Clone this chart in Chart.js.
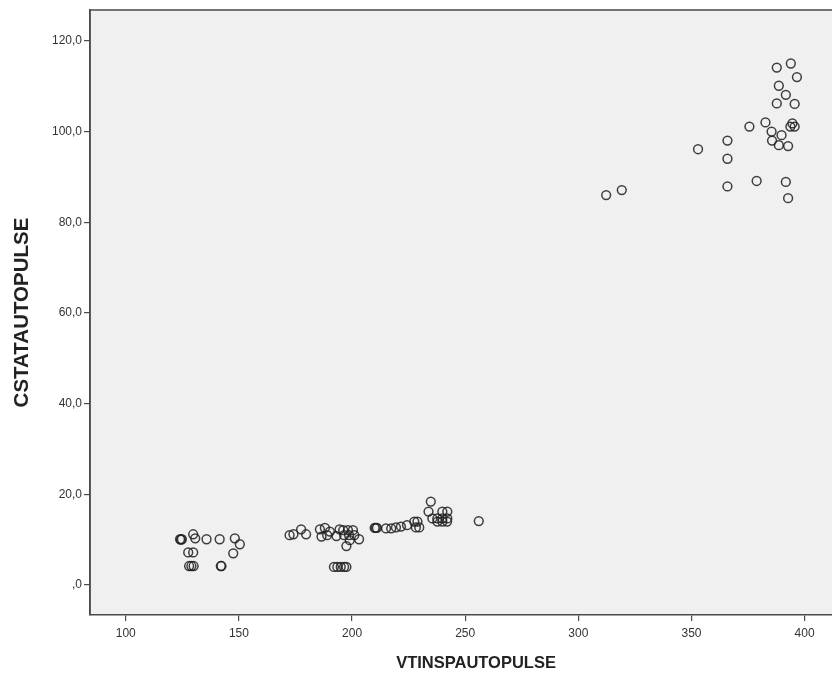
<!DOCTYPE html>
<html>
<head>
<meta charset="utf-8">
<script src="https://cdn.jsdelivr.net/npm/chart.js@4"></script>
<style>
  html, body { margin: 0; background: #fff; overflow: hidden; }
  #wrap { width: 832px; height: 679px; overflow: hidden; }
</style>
</head>
<body>
<div id="wrap"><canvas id="scatterChart" width="868" height="679"></canvas></div>
<script>
// Данные точек
const vtInsp = [
    124.0, 124.4, 124.8, 129.8, 130.7, 135.7, 141.5, 148.2, 150.4, 147.5, 127.6, 129.8, 128.0, 129.0, 130.0, 142.0, 142.3,
    172.4, 174.1, 177.5, 179.7, 185.8, 186.5, 188.0, 190.2, 193.1, 196.1, 198.2, 200.4, 196.5, 198.7, 201.0, 199.0, 203.1, 197.5,
    192.0, 193.5, 195.0, 196.5, 197.5, 189.0, 194.5,
    210.0, 210.5, 211.0, 215.0, 217.3, 219.4, 221.6, 224.3, 227.5, 228.9, 229.7, 228.2, 234.8, 233.8, 235.5, 237.7, 239.9, 242.1,
    237.7, 239.9, 242.0, 239.9, 242.1, 256.0,
    312.3, 319.2, 352.9, 365.9, 365.9, 365.9, 378.8, 375.6, 382.7, 385.4, 385.6, 389.8, 388.6, 392.7, 387.7, 393.9, 396.6,
    388.6, 391.7, 387.7, 395.6, 394.6, 393.7, 395.6, 391.7, 392.7
];
const cStat = [
    10.1, 10.0, 10.1, 11.2, 10.3, 10.1, 10.1, 10.3, 9.0, 7.0, 7.2, 7.2, 4.2, 4.2, 4.2, 4.2, 4.2,
    11.0, 11.2, 12.3, 11.2, 12.3, 10.7, 12.6, 11.8, 10.8, 12.1, 12.1, 12.1, 11.0, 11.0, 11.0, 9.9, 10.1, 8.6,
    4.0, 4.0, 4.0, 4.0, 4.0, 11.0, 12.3,
    12.6, 12.6, 12.6, 12.5, 12.5, 12.7, 12.9, 13.2, 14.0, 14.0, 12.7, 12.7, 18.4, 16.2, 14.7, 14.7, 14.7, 14.7,
    14.0, 14.0, 14.0, 16.2, 16.2, 14.1,
    86.0, 87.1, 96.1, 98.0, 94.0, 87.9, 89.1, 101.1, 102.0, 100.0, 98.0, 99.2, 97.0, 96.8, 114.1, 115.0, 112.0,
    110.1, 108.1, 106.2, 106.1, 101.8, 101.1, 101.1, 88.9, 85.3
];
const xTicks = [100, 150, 200, 250, 300, 350, 400];
const yTicks = [0, 20, 40, 60, 80, 100, 120];
const xTitle = 'VTINSPAUTOPULSE';
const yTitle = 'CSTATAUTOPULSE';

const points = vtInsp.map((x, i) => ({ x: x, y: cStat[i] }));

// Фон и рамка области графика
const plotFrame = {
    id: 'plotFrame',
    beforeDraw(chart) {
        const { ctx, chartArea: a } = chart;
        ctx.save();
        ctx.fillStyle = '#f0f0f0';
        ctx.fillRect(a.left, a.top, a.right - a.left, a.bottom - a.top);
        ctx.strokeStyle = '#4a4a4a';
        ctx.lineWidth = 1.5;
        ctx.beginPath();
        ctx.moveTo(a.left, a.bottom);
        ctx.lineTo(a.left, a.top);
        ctx.lineTo(a.right, a.top);
        ctx.stroke();
        ctx.restore();
    }
};

const tickFont = { family: 'Liberation Sans, Arial, sans-serif', size: 12 };

new Chart(document.getElementById('scatterChart'), {
    type: 'scatter',
    data: {
        datasets: [{
            data: points,
            pointStyle: 'circle',
            pointRadius: 4.4,
            pointBorderWidth: 1.5,
            pointBackgroundColor: 'rgba(0,0,0,0)',
            pointBorderColor: 'rgba(30,30,30,0.85)',
            pointHoverRadius: 4.4
        }]
    },
    options: {
        responsive: false,
        animation: false,
        events: [],
        layout: { padding: { top: 10, right: 0, bottom: 0, left: 0 } },
        plugins: { legend: { display: false }, tooltip: { enabled: false } },
        scales: {
            x: {
                type: 'linear',
                min: 84.2,
                max: 425.4,
                afterFit(scale) { scale.height = 64; scale.paddingRight = 0; },
                afterBuildTicks(scale) { scale.ticks = xTicks.map(v => ({ value: v })); },
                grid: { drawOnChartArea: false, drawTicks: true, tickLength: 6, color: '#4a4a4a', lineWidth: 1.2 },
                border: { display: true, color: '#4a4a4a', width: 1.5 },
                ticks: { color: '#333', font: tickFont, padding: 5, maxRotation: 0 },
                title: {
                    display: true,
                    text: xTitle,
                    color: '#222',
                    font: { family: 'Liberation Sans, Arial, sans-serif', size: 16.5, weight: 'bold' },
                    padding: { top: 0, bottom: 6 }
                }
            },
            y: {
                type: 'linear',
                min: -6.6,
                max: 126.8,
                afterFit(scale) { scale.width = 90; },
                afterBuildTicks(scale) { scale.ticks = yTicks.map(v => ({ value: v })); },
                grid: { drawOnChartArea: false, drawTicks: true, tickLength: 6, color: '#4a4a4a', lineWidth: 1.2 },
                border: { display: true, color: '#4a4a4a', width: 1.5 },
                ticks: {
                    color: '#333',
                    font: tickFont,
                    padding: 2,
                    callback: v => (v === 0 ? ',0' : v.toFixed(1).replace('.', ','))
                },
                title: {
                    display: true,
                    text: yTitle,
                    color: '#222',
                    font: { family: 'Liberation Sans, Arial, sans-serif', size: 20.5, weight: 'bold' },
                    padding: { top: 10, bottom: 0 }
                }
            }
        }
    },
    plugins: [plotFrame]
});
</script>
</body>
</html>
